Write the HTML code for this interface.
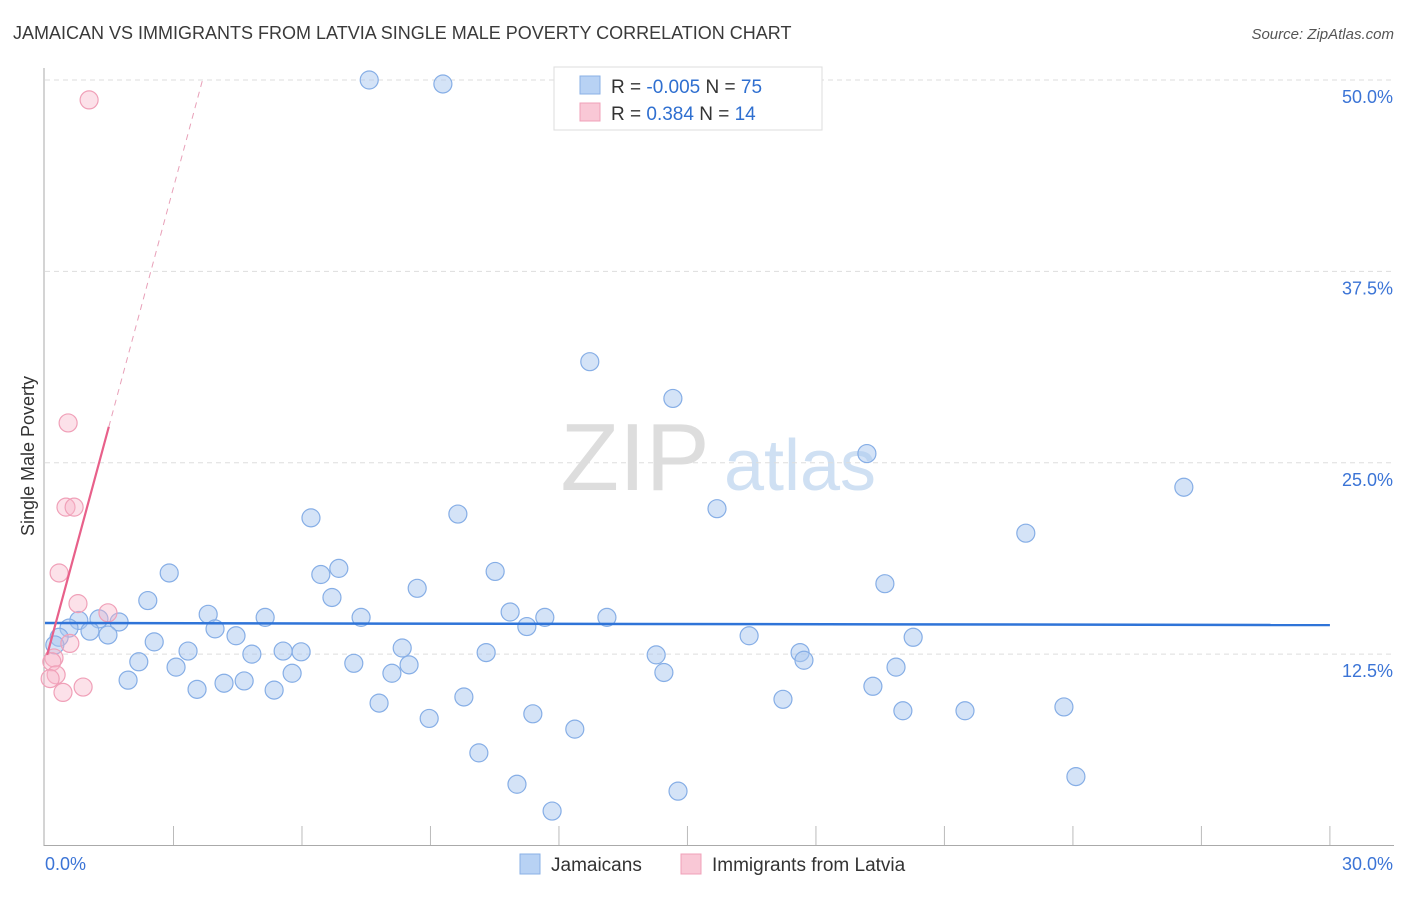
<!DOCTYPE html>
<html><head><meta charset="utf-8"><style>
body{margin:0;background:#fff;font-family:"Liberation Sans",sans-serif;}
svg text{font-family:"Liberation Sans",sans-serif;}
</style></head><body>
<svg id="chart" width="1406" height="892" xmlns="http://www.w3.org/2000/svg">
<text x="13" y="39" font-size="18" fill="#3a3a3a">JAMAICAN VS IMMIGRANTS FROM LATVIA SINGLE MALE POVERTY CORRELATION CHART</text>
<text x="1394" y="39" font-size="15" fill="#555" text-anchor="end" font-style="italic">Source: ZipAtlas.com</text>
<g>
<text x="635" y="490" font-size="96" fill="#ddd" text-anchor="middle" font-family="Liberation Serif,serif">ZIP</text>
<text x="800" y="490" font-size="72" fill="#cfe0f3" text-anchor="middle">atlas</text>
</g>
<g id="grid"></g><g id="axes"></g><g id="marks"></g>
<g>
<rect x="554" y="67" width="268" height="63" fill="#fff" stroke="#ddd"/>
<rect x="580" y="76" width="20" height="18" fill="#b8d2f4" stroke="#8ab0e6"/>
<rect x="580" y="103" width="20" height="18" fill="#f9c8d6" stroke="#f0a0b8"/>
<text x="611" y="93" font-size="19" fill="#333">R = <tspan fill="#2f6fd0">-0.005</tspan>   N = <tspan fill="#2f6fd0">75</tspan></text>
<text x="611" y="120" font-size="19" fill="#333">R =   <tspan fill="#2f6fd0">0.384</tspan>   N =  <tspan fill="#2f6fd0">14</tspan></text>
</g>
<g>
<rect x="520" y="854" width="20" height="20" fill="#b8d2f4" stroke="#8ab0e6"/>
<text x="551" y="871" font-size="19" fill="#333">Jamaicans</text>
<rect x="681" y="854" width="20" height="20" fill="#f9c8d6" stroke="#f0a0b8"/>
<text x="712" y="871" font-size="19" fill="#333">Immigrants from Latvia</text>
</g>
<text transform="translate(34,456) rotate(-90)" font-size="18" fill="#333" text-anchor="middle">Single Male Poverty</text>
</svg>
<script>
const blueX=[7.57,9.29,12.72,14.66,19.19,26.59,15.69,9.64,6.21,22.9,2.90,6.86,6.44,10.51,19.61,8.69,6.70,2.40,3.81,5.14,7.38,10.86,11.67,13.12,11.25,1.73,1.26,0.79,0.56,1.05,1.47,3.97,4.46,16.44,20.27,2.55,0.33,0.23,3.34,4.83,5.56,5.98,8.34,10.30,14.27,17.63,17.72,2.19,7.21,8.50,3.06,19.87,5.77,8.10,14.45,1.94,4.18,4.65,3.55,5.35,19.33,9.78,17.23,7.80,20.03,21.48,23.79,11.39,8.97,12.37,10.13,24.07,11.02,14.78,11.84];
const blueY=[50.0,49.74,31.6,29.2,25.6,23.4,22.0,21.65,21.4,20.4,17.8,18.1,17.7,17.9,17.1,16.8,16.2,16.0,15.1,14.9,14.9,15.25,14.9,14.9,14.3,14.6,14.8,14.7,14.2,14.0,13.75,14.15,13.7,13.7,13.6,13.3,13.6,13.1,12.7,12.5,12.7,12.65,12.9,12.6,12.45,12.6,12.1,12.0,11.9,11.8,11.65,11.65,11.25,11.25,11.3,10.8,10.6,10.75,10.2,10.15,10.4,9.7,9.55,9.3,8.8,8.8,9.05,8.6,8.3,7.6,6.05,4.5,4.0,3.55,2.25];
const pinkX=[1.03,0.54,0.49,0.68,0.33,0.77,1.47,0.58,0.21,0.16,0.26,0.12,0.89,0.42];
const pinkY=[48.7,27.6,22.1,22.1,17.8,15.8,15.2,13.2,12.25,12.0,11.15,10.9,10.35,10.0];
const yTicks=[12.5,25,37.5,50];
const yTickLabels=["12.5%","25.0%","37.5%","50.0%"];
const xTicks=[0,3,6,9,12,15,18,21,24,27,30];
const blueTrend=[14.53,14.4];
const pinkTrend={intercept:11.93,slope:10.35};
const NS="http://www.w3.org/2000/svg";
const X=v=>45+v*42.83, Y=v=>845.5-v*15.31;
function mk(p,t,a){const e=document.createElementNS(NS,t);for(const k in a)e.setAttribute(k,a[k]);p.appendChild(e);return e;}
const grid=document.getElementById('grid'),axes=document.getElementById('axes'),marks=document.getElementById('marks');
yTicks.forEach((v,i)=>{
 const l=mk(grid,'line',{x1:45,x2:1394,y1:Y(v),y2:Y(v),stroke:'#ddd','stroke-dasharray':'5,4'});
 
 
 const t=mk(axes,'text',{x:1393,y:Y(v)+23,'font-size':18,fill:'#3b74d6','text-anchor':'end'});t.textContent=yTickLabels[i];
 
 
});
let a=mk(axes,'line',{x1:44,x2:44,y1:68,y2:846,stroke:'#aaa'});


a=mk(axes,'line',{x1:44,x2:1394,y1:845.5,y2:845.5,stroke:'#aaa'});


xTicks.slice(1).forEach(v=>{const t=mk(axes,'line',{x1:X(v),x2:X(v),y1:826,y2:845,stroke:'#bbb'});
 
 });
let t=mk(axes,'text',{x:45,y:870,'font-size':18,fill:'#3b74d6'});t.textContent='0.0%';


t=mk(axes,'text',{x:1393,y:870,'font-size':18,fill:'#3b74d6','text-anchor':'end'});t.textContent='30.0%';


blueX.forEach((x,i)=>{const c=mk(marks,'circle',{cx:X(x),cy:Y(blueY[i]),r:9,fill:'rgba(170,200,240,0.5)',stroke:'#86aee6','stroke-width':1.2});
 
 });
pinkX.forEach((x,i)=>{const c=mk(marks,'circle',{cx:X(x),cy:Y(pinkY[i]),r:9,fill:'rgba(248,180,200,0.4)',stroke:'#f0a0b8','stroke-width':1.2});
 
 });
let l=mk(marks,'line',{x1:X(0),x2:X(30),y1:Y(blueTrend[0]),y2:Y(blueTrend[1]),stroke:'#2f74d8','stroke-width':2.5});


const pf=x=>pinkTrend.intercept+pinkTrend.slope*x;
l=mk(marks,'line',{x1:X(0.05),x2:X(1.49),y1:Y(pf(0.05)),y2:Y(pf(1.49)),stroke:'#e8608a','stroke-width':2.2});


l=mk(marks,'line',{x1:X(1.49),x2:X(3.68),y1:Y(pf(1.49)),y2:Y(pf(3.68)),stroke:'#e8a0b8','stroke-width':1,'stroke-dasharray':'6,5'});


</script>
</body></html>
